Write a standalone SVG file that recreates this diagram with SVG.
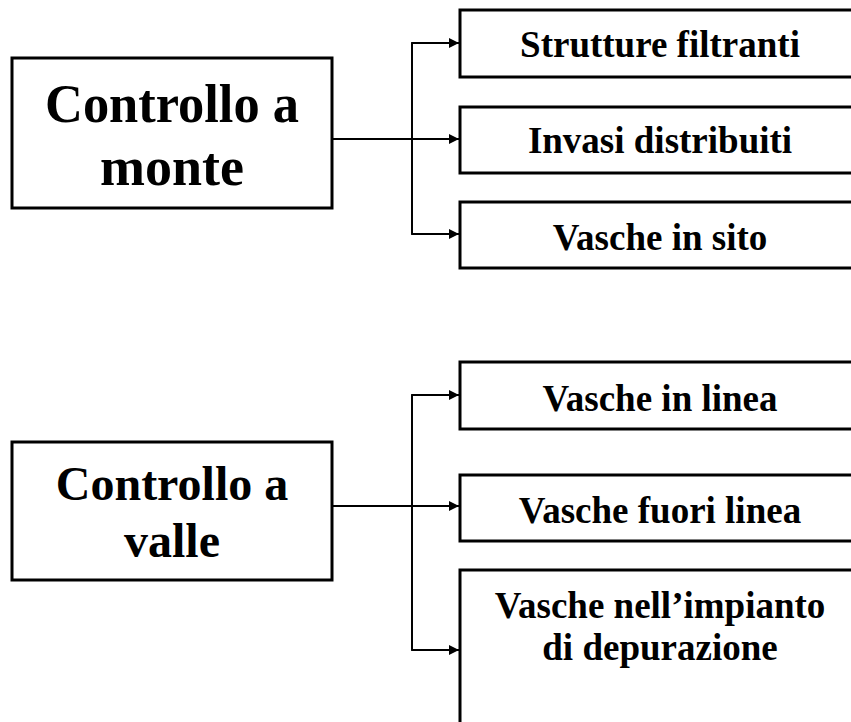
<svg xmlns="http://www.w3.org/2000/svg" width="851" height="722" viewBox="0 0 851 722">
<style>
.box{fill:#fff;stroke:#000;stroke-width:3}
.t{font-family:"Liberation Serif","Times New Roman",serif;font-weight:bold;fill:#000;text-anchor:middle}
.big{font-size:54px}
.big2{font-size:48px}
.sm{font-size:37px}
.c{fill:none;stroke:#000;stroke-width:1.8}
</style>
<defs>
<marker id="ah" markerWidth="10" markerHeight="10" refX="10" refY="5" orient="auto" markerUnits="userSpaceOnUse">
<path d="M0,0 L10,5 L0,10 Z" fill="#000"/>
</marker>
</defs>
<rect width="851" height="722" fill="#fff"/>
<g id="connectors">
<path class="c" d="M332,139 H459" marker-end="url(#ah)"/>
<path class="c" d="M412,234 V43 H459" marker-end="url(#ah)"/>
<path class="c" d="M412,43 V234 H459" marker-end="url(#ah)"/>
<path class="c" d="M332,506 H459" marker-end="url(#ah)"/>
<path class="c" d="M412,650 V395 H459" marker-end="url(#ah)"/>
<path class="c" d="M412,395 V650 H459" marker-end="url(#ah)"/>
</g>
<g id="monte">
<rect class="box" x="12" y="58" width="320" height="150"/>
<text class="t big" x="172" y="122" textLength="254" lengthAdjust="spacingAndGlyphs">Controllo a</text>
<text class="t big" x="172" y="185">monte</text>
</g>
<g id="strutture">
<rect class="box" x="460" y="10" width="420" height="67"/>
<text class="t sm" x="660" y="57">Strutture filtranti</text>
</g>
<g id="invasi">
<rect class="box" x="460" y="107" width="420" height="66"/>
<text class="t sm" x="660" y="153">Invasi distribuiti</text>
</g>
<g id="sito">
<rect class="box" x="460" y="202" width="420" height="66"/>
<text class="t sm" x="660" y="250">Vasche in sito</text>
</g>
<g id="valle">
<rect class="box" x="12" y="442" width="320" height="138"/>
<text class="t big2" x="172" y="500">Controllo a</text>
<text class="t big2" x="172" y="557">valle</text>
</g>
<g id="linea">
<rect class="box" x="460" y="362" width="420" height="67"/>
<text class="t sm" x="660" y="411">Vasche in linea</text>
</g>
<g id="fuori">
<rect class="box" x="460" y="475" width="420" height="66"/>
<text class="t sm" x="660" y="523">Vasche fuori linea</text>
</g>
<g id="impianto">
<rect class="box" x="460" y="570" width="420" height="200"/>
<text class="t sm" x="660" y="618">Vasche nell’impianto</text>
<text class="t sm" x="660" y="660">di depurazione</text>
</g>
</svg>
